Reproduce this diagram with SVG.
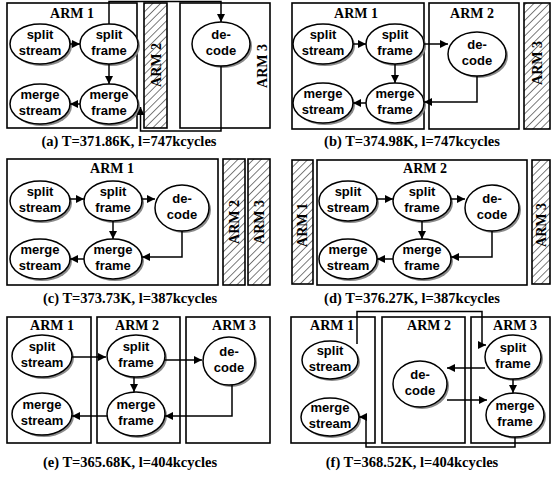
<svg xmlns="http://www.w3.org/2000/svg" width="554" height="477" viewBox="0 0 554 477">
<defs>
<pattern id="h" width="5.5" height="5.5" patternUnits="userSpaceOnUse" patternTransform="rotate(45)">
<rect width="5.5" height="5.5" fill="#fff"/>
<line x1="0" y1="0" x2="0" y2="5.5" stroke="#111" stroke-width="1.1"/>
</pattern>
<marker id="a" viewBox="0 0 10 10" refX="10" refY="5" markerWidth="9" markerHeight="8" markerUnits="userSpaceOnUse" orient="auto">
<path d="M0,0 L10,5 L0,10 z" fill="#000"/>
</marker>
</defs>
<style>
.box{fill:#fff;stroke:#000;stroke-width:1.6}
.hat{fill:url(#h);stroke:#000;stroke-width:1.6}
.sh{fill:#8a8a8a}
.n{fill:#fff;stroke:#000;stroke-width:1.5}
.t{font-family:"Liberation Sans",Arial,sans-serif;font-weight:bold;font-size:13px;text-anchor:middle}
.arm{font-family:"Liberation Serif","Times New Roman",serif;font-weight:bold;font-size:14px;text-anchor:middle}
.cap{font-family:"Liberation Serif","Times New Roman",serif;font-weight:bold;font-size:14.5px;text-anchor:middle}
.c{fill:none;stroke:#000;stroke-width:1.5;marker-end:url(#a)}
</style>
<rect width="554" height="477" fill="#fff"/>

<!-- Panel (a) -->
<g id="a_boxes">
<rect class="box" x="7" y="3" width="130" height="125"/>
<rect class="hat" x="144" y="3" width="23" height="125"/>
<rect class="box" x="180" y="3" width="90" height="125"/>
<text class="arm" x="72" y="18">ARM 1</text>
<text class="arm" transform="translate(160.5,65) rotate(-90)">ARM 2</text>
<text class="arm" transform="translate(267,66) rotate(-90)">ARM 3</text>
</g>
<g id="a_ss" transform="translate(40,44)"><ellipse class="sh" cx="2" cy="2" rx="30" ry="20"/><ellipse class="n" rx="30" ry="20"/><text class="t" y="-5">split</text><text class="t" y="11">stream</text></g>
<g id="a_sf" transform="translate(109,44)"><ellipse class="sh" cx="2" cy="2" rx="29" ry="20"/><ellipse class="n" rx="29" ry="20"/><text class="t" y="-5">split</text><text class="t" y="11">frame</text></g>
<g id="a_ms" transform="translate(40,104)"><ellipse class="sh" cx="2" cy="2" rx="30" ry="20"/><ellipse class="n" rx="30" ry="20"/><text class="t" y="-5">merge</text><text class="t" y="11">stream</text></g>
<g id="a_mf" transform="translate(109,104)"><ellipse class="sh" cx="2" cy="2" rx="29" ry="20"/><ellipse class="n" rx="29" ry="20"/><text class="t" y="-5">merge</text><text class="t" y="11">frame</text></g>
<g id="a_dc" transform="translate(221,44)"><ellipse class="sh" cx="2" cy="2" rx="29" ry="22"/><ellipse class="n" rx="29" ry="22"/><text class="t" y="-5">de-</text><text class="t" y="11">code</text></g>
<g id="a_conn">
<path class="c" d="M70,44 H80"/>
<path class="c" d="M109,64 V84"/>
<path class="c" d="M80,104 H70"/>
<path class="c" d="M109,24 V1.5 H221 V22"/>
<path class="c" d="M221,66 V131 H140.5 V107"/>
</g>
<text class="cap" x="129" y="146">(a) T=371.86K, l=747kcycles</text>

<!-- Panel (b) -->
<g id="b_boxes">
<rect class="box" x="292" y="3" width="132" height="126"/>
<rect class="box" x="429" y="3" width="90" height="126"/>
<rect class="hat" x="524" y="3" width="26" height="126"/>
<text class="arm" x="356" y="18">ARM 1</text>
<text class="arm" x="472" y="18">ARM 2</text>
<text class="arm" transform="translate(542,63) rotate(-90)">ARM 3</text>
</g>
<g id="b_ss" transform="translate(323,44)"><ellipse class="sh" cx="2" cy="2" rx="30" ry="20"/><ellipse class="n" rx="30" ry="20"/><text class="t" y="-5">split</text><text class="t" y="11">stream</text></g>
<g id="b_sf" transform="translate(395,44)"><ellipse class="sh" cx="2" cy="2" rx="29" ry="20"/><ellipse class="n" rx="29" ry="20"/><text class="t" y="-5">split</text><text class="t" y="11">frame</text></g>
<g id="b_ms" transform="translate(323,103)"><ellipse class="sh" cx="2" cy="2" rx="30" ry="20"/><ellipse class="n" rx="30" ry="20"/><text class="t" y="-5">merge</text><text class="t" y="11">stream</text></g>
<g id="b_mf" transform="translate(395,103)"><ellipse class="sh" cx="2" cy="2" rx="29" ry="20"/><ellipse class="n" rx="29" ry="20"/><text class="t" y="-5">merge</text><text class="t" y="11">frame</text></g>
<g id="b_dc" transform="translate(477,54)"><ellipse class="sh" cx="2" cy="2" rx="29" ry="22"/><ellipse class="n" rx="29" ry="22"/><text class="t" y="-5">de-</text><text class="t" y="11">code</text></g>
<g id="b_conn">
<path class="c" d="M353,44 H366"/>
<path class="c" d="M395,64 V83"/>
<path class="c" d="M366,103 H353"/>
<path class="c" d="M424,44 H448"/>
<path class="c" d="M477,76 V102 H424"/>
</g>
<text class="cap" x="412" y="146">(b) T=374.98K, l=747kcycles</text>

<!-- Panel (c) -->
<g id="c_boxes">
<rect class="box" x="7" y="159" width="211" height="126"/>
<rect class="hat" x="223" y="159" width="22" height="126"/>
<rect class="hat" x="248" y="159" width="22" height="126"/>
<text class="arm" x="112" y="173">ARM 1</text>
<text class="arm" transform="translate(239,222) rotate(-90)">ARM 2</text>
<text class="arm" transform="translate(264,222) rotate(-90)">ARM 3</text>
</g>
<g id="c_ss" transform="translate(40,201)"><ellipse class="sh" cx="2" cy="2" rx="30" ry="20"/><ellipse class="n" rx="30" ry="20"/><text class="t" y="-5">split</text><text class="t" y="11">stream</text></g>
<g id="c_sf" transform="translate(113,201)"><ellipse class="sh" cx="2" cy="2" rx="29" ry="20"/><ellipse class="n" rx="29" ry="20"/><text class="t" y="-5">split</text><text class="t" y="11">frame</text></g>
<g id="c_dc" transform="translate(182,208)"><ellipse class="sh" cx="2" cy="2" rx="27" ry="23"/><ellipse class="n" rx="27" ry="23"/><text class="t" y="-5">de-</text><text class="t" y="11">code</text></g>
<g id="c_ms" transform="translate(40,259)"><ellipse class="sh" cx="2" cy="2" rx="30" ry="20"/><ellipse class="n" rx="30" ry="20"/><text class="t" y="-5">merge</text><text class="t" y="11">stream</text></g>
<g id="c_mf" transform="translate(113,259)"><ellipse class="sh" cx="2" cy="2" rx="29" ry="20"/><ellipse class="n" rx="29" ry="20"/><text class="t" y="-5">merge</text><text class="t" y="11">frame</text></g>
<g id="c_conn">
<path class="c" d="M70,199 H84"/>
<path class="c" d="M142,199 H155"/>
<path class="c" d="M113,221 V239"/>
<path class="c" d="M182,231 V257 H142"/>
<path class="c" d="M84,259 H70"/>
</g>
<text class="cap" x="130" y="303">(c) T=373.73K, l=387kcycles</text>

<!-- Panel (d) -->
<g id="d_boxes">
<rect class="hat" x="292" y="160" width="21" height="124"/>
<rect class="box" x="317" y="160" width="210" height="125"/>
<rect class="hat" x="532" y="160" width="18" height="124"/>
<text class="arm" transform="translate(307,225) rotate(-90)">ARM 1</text>
<text class="arm" x="425" y="173">ARM 2</text>
<text class="arm" transform="translate(546,225) rotate(-90)">ARM 3</text>
</g>
<g id="d_ss" transform="translate(348,201)"><ellipse class="sh" cx="2" cy="2" rx="29" ry="20"/><ellipse class="n" rx="29" ry="20"/><text class="t" y="-5">split</text><text class="t" y="11">stream</text></g>
<g id="d_sf" transform="translate(422,201)"><ellipse class="sh" cx="2" cy="2" rx="29" ry="20"/><ellipse class="n" rx="29" ry="20"/><text class="t" y="-5">split</text><text class="t" y="11">frame</text></g>
<g id="d_dc" transform="translate(492,208)"><ellipse class="sh" cx="2" cy="2" rx="27" ry="23"/><ellipse class="n" rx="27" ry="23"/><text class="t" y="-5">de-</text><text class="t" y="11">code</text></g>
<g id="d_ms" transform="translate(348,259)"><ellipse class="sh" cx="2" cy="2" rx="29" ry="20"/><ellipse class="n" rx="29" ry="20"/><text class="t" y="-5">merge</text><text class="t" y="11">stream</text></g>
<g id="d_mf" transform="translate(422,259)"><ellipse class="sh" cx="2" cy="2" rx="29" ry="20"/><ellipse class="n" rx="29" ry="20"/><text class="t" y="-5">merge</text><text class="t" y="11">frame</text></g>
<g id="d_conn">
<path class="c" d="M377,199 H393"/>
<path class="c" d="M451,199 H465"/>
<path class="c" d="M422,221 V239"/>
<path class="c" d="M492,231 V257 H451"/>
<path class="c" d="M393,259 H377"/>
</g>
<text class="cap" x="412" y="303">(d) T=376.27K, l=387kcycles</text>

<!-- Panel (e) -->
<g id="e_boxes">
<rect class="box" x="7" y="317" width="84" height="126"/>
<rect class="box" x="97" y="317" width="83" height="126"/>
<rect class="box" x="186" y="317" width="84" height="126"/>
<text class="arm" x="52" y="330">ARM 1</text>
<text class="arm" x="137" y="330">ARM 2</text>
<text class="arm" x="234" y="330">ARM 3</text>
</g>
<g id="e_ss" transform="translate(42,356)"><ellipse class="sh" cx="2" cy="2" rx="30" ry="21"/><ellipse class="n" rx="30" ry="21"/><text class="t" y="-5">split</text><text class="t" y="11">stream</text></g>
<g id="e_sf" transform="translate(136,356)"><ellipse class="sh" cx="2" cy="2" rx="29" ry="21"/><ellipse class="n" rx="29" ry="21"/><text class="t" y="-5">split</text><text class="t" y="11">frame</text></g>
<g id="e_dc" transform="translate(229,361)"><ellipse class="sh" cx="2" cy="2" rx="26" ry="24"/><ellipse class="n" rx="26" ry="24"/><text class="t" y="-5">de-</text><text class="t" y="11">code</text></g>
<g id="e_ms" transform="translate(42,414)"><ellipse class="sh" cx="2" cy="2" rx="30" ry="21"/><ellipse class="n" rx="30" ry="21"/><text class="t" y="-5">merge</text><text class="t" y="11">stream</text></g>
<g id="e_mf" transform="translate(136,414)"><ellipse class="sh" cx="2" cy="2" rx="29" ry="22"/><ellipse class="n" rx="29" ry="22"/><text class="t" y="-5">merge</text><text class="t" y="11">frame</text></g>
<g id="e_conn">
<path class="c" d="M72,357 H106"/>
<path class="c" d="M165,360 H202"/>
<path class="c" d="M134,377 V392"/>
<path class="c" d="M232,385 V416 H165"/>
<path class="c" d="M107,416 H72"/>
</g>
<text class="cap" x="130" y="467">(e) T=365.68K, l=404kcycles</text>

<!-- Panel (f) -->
<g id="f_boxes">
<rect class="box" x="291" y="317" width="84" height="126"/>
<rect class="box" x="382" y="317" width="83" height="126"/>
<rect class="box" x="471" y="317" width="79" height="126"/>
<text class="arm" x="332" y="330">ARM 1</text>
<text class="arm" x="429" y="330">ARM 2</text>
<text class="arm" x="515" y="330">ARM 3</text>
</g>
<g id="f_ss" transform="translate(330,360)"><ellipse class="sh" cx="2" cy="2" rx="28" ry="19"/><ellipse class="n" rx="28" ry="19"/><text class="t" y="-5">split</text><text class="t" y="11">stream</text></g>
<g id="f_ms" transform="translate(330,417)"><ellipse class="sh" cx="2" cy="2" rx="29" ry="19"/><ellipse class="n" rx="29" ry="19"/><text class="t" y="-5">merge</text><text class="t" y="11">stream</text></g>
<g id="f_dc" transform="translate(420,384)"><ellipse class="sh" cx="2" cy="2" rx="27" ry="23"/><ellipse class="n" rx="27" ry="23"/><text class="t" y="-5">de-</text><text class="t" y="11">code</text></g>
<g id="f_sf" transform="translate(513,357)"><ellipse class="sh" cx="2" cy="2" rx="28" ry="22"/><ellipse class="n" rx="28" ry="22"/><text class="t" y="-5">split</text><text class="t" y="11">frame</text></g>
<g id="f_mf" transform="translate(515,415)"><ellipse class="sh" cx="2" cy="2" rx="29" ry="22"/><ellipse class="n" rx="29" ry="22"/><text class="t" y="-5">merge</text><text class="t" y="11">frame</text></g>
<g id="f_conn">
<path class="c" d="M357,344 V311.5 H482 V345 H486"/>
<path class="c" d="M485,368 H447"/>
<path class="c" d="M447,400 H487"/>
<path class="c" d="M513,379 V393"/>
<path class="c" d="M515,437 V447 H366 V417 H359"/>
</g>
<text class="cap" x="412" y="467">(f) T=368.52K, l=404kcycles</text>
</svg>
